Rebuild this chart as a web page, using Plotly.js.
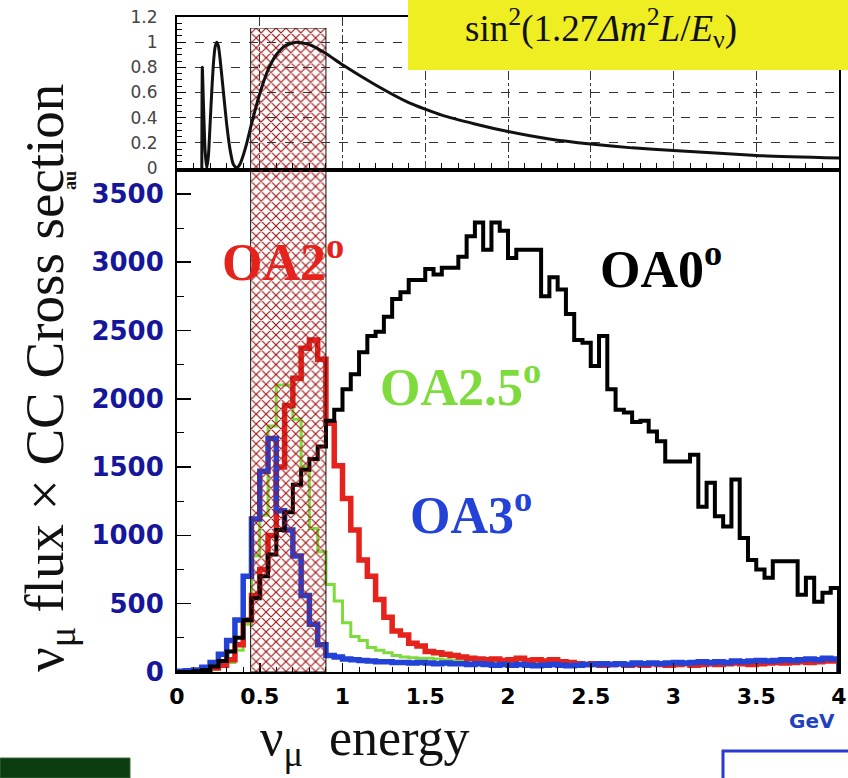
<!DOCTYPE html>
<html><head><meta charset="utf-8">
<script src="https://cdn.plot.ly/plotly-3.0.1.min.js"></script>
<style>html,body{margin:0;padding:0;background:#fff}#chart{width:848px;height:778px}</style>
</head><body><div id="chart"></div>
<script>
// ---- data ----
const binWidth = 0.05; // GeV, 80 bins from 0 to 4 GeV
const oa0 = [0,0,5,15,40,80,150,250,380,540, 700,860,1040,1170,1370,1480,1560,1650,1840,1920,
  2070,2180,2340,2460,2490,2600,2730,2780,2870,2870, 2950,2910,2960,2960,3040,3190,3290,3090,3290,3230,
  3030,3090,3090,3090,2750,2890,2800,2620,2430,2410, 2240,2460,2070,1920,1900,1830,1840,1760,1690,1540,
  1540,1540,1590,1210,1385,1140,1065,1410,980,820, 750,690,810,810,810,565,690,515,580,615];
const oa2 = [0,0,5,15,30,50,90,200,380,560, 750,1000,1500,1950,2150,2370,2430,2290,1820,1510,
  1270,1040,820,700,530,400,300,270,210,190, 150,140,130,120,110,100,95,90,95,85,
  90,100,85,90,80,90,75,70,60,55, 60,50,55,60,50,55,50,60,55,50,
  55,60,50,55,60,55,60,65,60,55, 60,65,70,65,70,75,70,75,80,80];
const oa25 = [0,0,5,10,20,40,70,160,350,850, 1150,1800,2100,2100,1850,1500,1050,880,640,520,
  360,260,230,180,160,140,120,110,105,100, 100,95,90,85,80,80,75,75,70,70,
  70,65,65,60,65,60,60,55,60,55, 55,60,55,60,55,60,60,65,60,65,
  60,65,65,70,65,70,70,75,70,75, 75,80,75,80,80,85,80,85,90,85];
const oa3 = [5,10,15,35,70,130,230,380,700,1120, 1470,1710,1180,1040,850,560,350,200,120,110,
  95,90,85,80,75,75,70,70,65,70, 65,60,65,60,60,55,60,55,50,55,
  50,55,50,45,50,55,50,45,50,55, 55,60,55,60,55,65,60,65,60,65,
  70,65,70,75,70,75,70,80,75,80, 85,80,85,90,85,90,95,90,100,95];
// oscillation probability sin^2(1.27 dm2 L / E)
const oscE = [0.15,0.153,0.16,0.17,0.18,0.19,0.20,0.21,0.22,0.23,0.24,0.25,0.26,0.28,0.30,0.32,0.34,0.36,0.38,0.40,
  0.42,0.45,0.50,0.55,0.60,0.65,0.72,0.80,0.90,1.0,1.2,1.4,1.6,1.8,2.0,2.25,2.5,2.75,3.0,3.5,4.0];
const oscP = [0,0.80,0.50,0.13,0.0,0.10,0.35,0.61,0.83,0.96,1.0,0.97,0.87,0.61,0.35,0.15,0.03,0.0,0.03,0.10,
  0.19,0.35,0.59,0.78,0.90,0.97,1.0,0.98,0.91,0.82,0.66,0.52,0.42,0.35,0.29,0.23,0.19,0.16,0.14,0.10,0.08];
const bandE = [0.445, 0.9];
const xTickVals = [0,0.5,1,1.5,2,2.5,3,3.5,4];
const xTickText = ['0','0.5','1','1.5','2','2.5','3','3.5','4'];
const yTickVals = [0,500,1000,1500,2000,2500,3000,3500];

// ---- layout helpers ----
const W = 848, H = 778;
const fx = p => p / W, fy = p => 1 - p / H;

function stepTrace(vals, color, width) {
  const x = vals.map((_, i) => +(i * binWidth).toFixed(3));
  const y = vals.slice();
  x.push(+(vals.length * binWidth).toFixed(3)); y.push(0);
  return {type:'scatter', mode:'lines', x, y, xaxis:'x', yaxis:'y',
    line:{shape:'hv', color, width}, hoverinfo:'skip', showlegend:false};
}

const traces = [
  stepTrace(oa25, '#7ddc3c', 3),
  stepTrace(oa2, '#e5221c', 5.5),
  stepTrace(oa3, '#2342d8', 5.5),
  stepTrace(oa0, '#000000', 4),
  {type:'bar', xaxis:'x', yaxis:'y3', x:[(bandE[0]+bandE[1])/2], y:[1], base:0,
   width:[bandE[1]-bandE[0]], hoverinfo:'skip', showlegend:false,
   marker:{color:'rgba(0,0,0,0)', line:{color:'#111', width:1},
     pattern:{shape:'x', fgcolor:'#9e1212', bgcolor:'rgba(0,0,0,0)', size:7, solidity:0.3, fillmode:'replace'}}},
  {type:'scatter', mode:'lines', x:oscE, y:oscP, xaxis:'x2', yaxis:'y2',
   line:{color:'#111', width:3, shape:'spline', smoothing:0.5}, hoverinfo:'skip', showlegend:false}
];

const serif = 'Liberation Serif, Times New Roman, serif';
const ann = (x, y, text, size, color, extra) => Object.assign({
  xref:'paper', yref:'paper', x:fx(x), y:fy(y), text, showarrow:false,
  xanchor:'center', yanchor:'middle', font:{family:serif, size, color}}, extra || {});

const layout = {
  width:W, height:H, margin:{l:0, r:0, t:0, b:0},
  paper_bgcolor:'white', plot_bgcolor:'rgba(0,0,0,0)', showlegend:false, bargap:0,
  xaxis:{domain:[fx(177), fx(839)], range:[0,4], anchor:'y', showline:true, mirror:true,
    linecolor:'black', linewidth:2, ticks:'inside', ticklen:9, tickwidth:1.5, tickcolor:'black',
    tickvals:xTickVals, ticktext:xTickText, ticklabelstandoff:4,
    tickfont:{family:'DejaVu Sans', size:22, color:'black', weight:'bold'},
    minor:{ticks:'inside', dtick:0.1, ticklen:5, tickcolor:'black', tickwidth:1},
    showgrid:false, zeroline:false},
  yaxis:{domain:[fy(672), fy(172)], range:[0,3660], anchor:'x', showline:true, mirror:true,
    linecolor:'black', linewidth:2, ticks:'inside', ticklen:14, tickwidth:1.5, tickcolor:'black',
    tickvals:yTickVals, ticklabelstandoff:6,
    tickfont:{family:'DejaVu Sans', size:26, color:'#16169a', weight:'bold'},
    minor:{ticks:'inside', dtick:250, ticklen:7, tickcolor:'black', tickwidth:1},
    showgrid:false, zeroline:false},
  xaxis2:{domain:[fx(177), fx(839)], range:[0,4], anchor:'y2', showline:true, mirror:true,
    linecolor:'black', linewidth:2, ticks:'inside', ticklen:6, dtick:0.5, showticklabels:false,
    showgrid:true, gridcolor:'#333', griddash:'dashdot', gridwidth:1,
    minor:{ticks:'inside', dtick:0.1, ticklen:5, tickcolor:'black'}, zeroline:false},
  yaxis2:{domain:[fy(168), fy(17)], range:[0,1.2], anchor:'x2', showline:true, mirror:true,
    linecolor:'black', linewidth:2, ticks:'inside', ticklen:9, dtick:0.2, tickcolor:'black',
    tickfont:{family:'DejaVu Sans', size:17, color:'#444'}, ticklabelstandoff:14,
    minor:{ticks:'inside', dtick:0.05, ticklen:5, tickcolor:'black'},
    showgrid:true, gridcolor:'#333', griddash:'dash', gridwidth:1, zeroline:false},
  yaxis3:{domain:[fy(672), fy(28)], range:[0,1], anchor:'x', visible:false},
  shapes:[
    {type:'rect', xref:'paper', yref:'paper', x0:fx(408), x1:1, y0:fy(70), y1:1,
     fillcolor:'#eeee22', line:{width:0}, layer:'above'},
    {type:'rect', xref:'paper', yref:'paper', x0:0, x1:fx(130), y0:0, y1:fy(758),
     fillcolor:'#0d3b10', line:{color:'#3a6a3a', width:1}, layer:'above'},
    {type:'rect', xref:'paper', yref:'paper', x0:fx(723), x1:1.01, y0:-0.01, y1:fy(751),
     fillcolor:'white', line:{color:'#2a3ad0', width:3}, layer:'above'}
  ],
  annotations:[
    ann(601, 28, 'sin<sup>2</sup>(1.27<i>Δm</i><sup>2</sup><i>L</i>/<i>E</i><sub>ν</sub>)', 37, '#111'),
    ann(283, 258, '<b>OA2<sup>o</sup></b>', 52, '#e5221c'),
    ann(661, 265, '<b>OA0<sup>o</sup></b>', 52, '#000'),
    ann(460, 383, '<b>OA2.5<sup>o</sup></b>', 52, '#7ddc3c'),
    ann(471, 512, '<b>OA3<sup>o</sup></b>', 52, '#2342d8'),
    ann(48, 378, 'ν<sub>μ</sub> flux × CC Cross section', 55, '#111', {textangle:-90}),
    ann(70, 181, '<b>au</b>', 18, '#111', {textangle:-90}),
    ann(365, 741, 'ν<sub>μ</sub>  energy', 52, '#111'),
    ann(812, 721, '<b>GeV</b>', 20, '#2040c0', {font:{family:'DejaVu Sans', size:20, color:'#2040c0'}})
  ]
};

Plotly.newPlot('chart', traces, layout, {displayModeBar:false, staticPlot:true});
</script>
</body></html>
